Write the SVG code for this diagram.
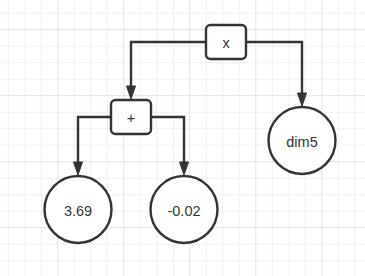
<svg xmlns="http://www.w3.org/2000/svg" width="365" height="276" viewBox="0 0 365 276">
  <style>
    .grid-minor { stroke: #f0f0f0; stroke-width: 1; fill: none; }
    .grid-major { stroke: #e3e3e3; stroke-width: 1; fill: none; }
    .node { fill: #ffffff; stroke: #333333; stroke-width: 2.4; }
    .edge { fill: none; stroke: #333333; stroke-width: 2.4; marker-end: url(#arrow); }
    .label { font-family: "Liberation Sans", Arial, sans-serif; font-size: 14.5px; fill: #333333; text-anchor: middle; }
  </style>
  <defs>
    <marker id="arrow" markerUnits="userSpaceOnUse" markerWidth="14" markerHeight="10" refX="2" refY="5" orient="auto" overflow="visible">
      <path d="M0,0.5 L13,5 L0,9.5 Z" fill="#333333" stroke="#333333" stroke-width="1" stroke-linejoin="miter"/>
    </marker>
  </defs>

  <rect width="365" height="276" fill="#ffffff"/>

  <!-- background grid -->
  <g id="grid">
    <path class="grid-minor" d="M8.3,0V276M24.8,0V276M41.3,0V276M74.3,0V276M90.8,0V276M107.3,0V276M140.3,0V276M156.8,0V276M173.3,0V276M206.3,0V276M222.8,0V276M239.3,0V276M272.3,0V276M288.8,0V276M305.3,0V276M338.3,0V276M354.8,0V276"/>
    <path class="grid-minor" d="M0,13.2H365M0,46.2H365M0,62.7H365M0,79.2H365M0,112.2H365M0,128.7H365M0,145.2H365M0,178.2H365M0,194.7H365M0,211.2H365M0,244.2H365M0,260.7H365"/>
    <path class="grid-major" d="M57.8,0V276M123.8,0V276M189.8,0V276M255.8,0V276M321.8,0V276M0,29.7H365M0,95.7H365M0,161.7H365M0,227.7H365"/>
  </g>

  <!-- connectors -->
  <g id="edges">
    <path class="edge" d="M206,42 H131 V88"/>
    <path class="edge" d="M246,42 H302 V95"/>
    <path class="edge" d="M111,117 H78 V164"/>
    <path class="edge" d="M151,117 H184 V164"/>
  </g>

  <!-- operator nodes -->
  <g id="node-mul">
    <rect class="node" x="206" y="25" width="40" height="34" rx="4.5"/>
    <text class="label" x="226" y="48.3">x</text>
  </g>
  <g id="node-add">
    <rect class="node" x="111" y="100" width="40" height="34" rx="4.5"/>
    <text class="label" x="131" y="123.2">+</text>
  </g>

  <!-- operand nodes -->
  <g id="node-dim5">
    <circle class="node" cx="302" cy="140.5" r="33.5"/>
    <text class="label" x="302" y="146.7">dim5</text>
  </g>
  <g id="node-369">
    <circle class="node" cx="78" cy="209.5" r="33.5"/>
    <text class="label" x="78" y="215.7">3.69</text>
  </g>
  <g id="node-m002">
    <circle class="node" cx="184" cy="209.5" r="33.5"/>
    <text class="label" x="184" y="215.7">-0.02</text>
  </g>
</svg>
